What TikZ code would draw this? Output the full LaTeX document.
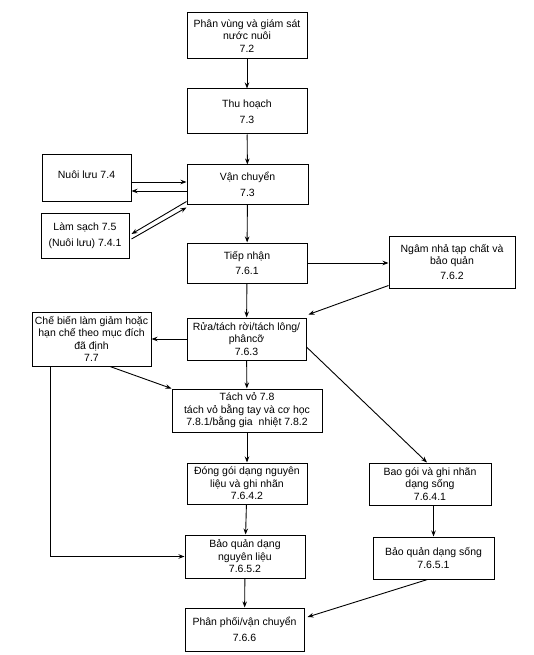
\documentclass[tikz,border=0pt]{standalone}
\usepackage{fontspec}
\setmainfont{Liberation Sans}
\usetikzlibrary{arrows.meta,calc}
\begin{document}
\begin{tikzpicture}[x=1pt,y=-1pt,
  box/.style={draw,line width=1pt,rectangle,align=center,inner sep=1pt,
    font=\fontsize{10.5}{12.5}\selectfont},
  arr/.style={line width=0.9pt,-{Stealth[length=6pt,width=4.5pt]}},
  ln/.style={line width=0.9pt}]
\useasboundingbox (0,0) rectangle (533,655);
\node[box,minimum width=120pt,minimum height=46pt] (b1) at (247,36) {Phân vùng và giám sát\\nước nuôi\\7.2};
\node[box,minimum width=120pt,minimum height=45pt] (b2) at (247,111.5) {Thu hoạch\\[3pt]7.3};
\node[box,minimum width=89pt,minimum height=46pt] (nuoi) at (86.5,178) {\raisebox{7pt}{Nuôi lưu 7.4}};
\node[box,minimum width=121pt,minimum height=39pt] (van) at (247.5,184.5) {Vận chuyển\\[3pt]7.3};
\node[box,minimum width=88pt,minimum height=45pt] (lam) at (85,235.5) {Làm sạch 7.5\\[3pt](Nuôi lưu) 7.4.1};
\node[box,minimum width=120pt,minimum height=40pt] (tiep) at (247,263) {Tiếp nhận\\[3pt]7.6.1};
\node[box,minimum width=126pt,minimum height=52pt] (ngam) at (452,262) {Ngâm nhả tạp chất và\\bảo quản\\[2pt]7.6.2};
\node[box,minimum width=119pt,minimum height=54pt] (che) at (91.5,339) {Chế biến làm giảm hoặc\\hạn chế theo mục đích\\đã định\\7.7};
\node[box,minimum width=119pt,minimum height=42pt] (rua) at (246.5,339) {Rửa/tách rời/tách lông/\\phâncỡ\\7.6.3};
\node[box,minimum width=150pt,minimum height=43pt] (tach) at (247,410.5) {Tách vỏ 7.8\\tách vỏ bằng tay và cơ học\\7.8.1/bằng gia\ \ nhiệt 7.8.2};
\node[box,minimum width=120pt,minimum height=41pt] (dong) at (247,483.5) {Đóng gói dạng nguyên\\liệu và ghi nhãn\\7.6.4.2};
\node[box,minimum width=122pt,minimum height=42pt] (bao) at (430,484) {Bao gói và ghi nhãn\\dạng sống\\7.6.4.1};
\node[box,minimum width=120pt,minimum height=43pt] (bqnl) at (245,556.5) {Bảo quản dạng\\nguyên liệu\\7.6.5.2};
\node[box,minimum width=121pt,minimum height=42pt] (bqs) at (433.5,558) {Bảo quản dạng sống\\[1pt]7.6.5.1};
\node[box,minimum width=119pt,minimum height=43pt] (pp) at (244.5,629.5) {Phân phối/vận chuyển\\[3pt]7.6.6};
\draw[arr] (b1) -- (b2);
\draw[arr] (b2) -- (van);
\draw[arr] ([yshift=2.5pt]van.west -| nuoi.east) -- ([yshift=2.5pt]van.west);
\draw[arr] ([yshift=-6.5pt]van.west) -- ([yshift=-6.5pt]van.west -| nuoi.east);
\draw[arr] ([yshift=3pt]van.south west) -- ([xshift=2pt,yshift=1.5pt]lam.east);
\draw[arr] ([xshift=2pt,yshift=-3.5pt]lam.east) -- ([yshift=-3pt]van.south west);
\draw[arr] (van) -- (tiep);
\draw[arr] (tiep.east) -- (ngam.west |- tiep.east);
\draw[arr] ([yshift=3pt]ngam.south west) -- ([xshift=2pt,yshift=3pt]rua.north east);
\draw[arr] (tiep) -- (rua);
\draw[arr] (rua.west) -- (che.east);
\draw[arr] ([xshift=18.5pt]che.south) -- (tach.north west);
\draw[arr] (rua) -- (tach);
\draw[arr] ([yshift=-8pt]rua.east) -- ([xshift=-3pt]bao.north);
\draw[arr] (tach) -- (dong);
\draw[arr] (dong) -- (bqnl);
\draw[arr] (bqnl) -- (pp);
\draw[arr] (bao.south -| bqs.north) -- (bqs.north);
\draw[arr] ([xshift=-6pt]bqs.south) -- ([xshift=3pt,yshift=12.5pt]pp.east);
\coordinate (c0) at ([xshift=-41.5pt]che.south);
\coordinate (c1) at (c0 |- bqnl.west);
\draw[ln] (c0) -- (c1);
\draw[arr] (c1) -- (bqnl.west);
\end{tikzpicture}
\end{document}
